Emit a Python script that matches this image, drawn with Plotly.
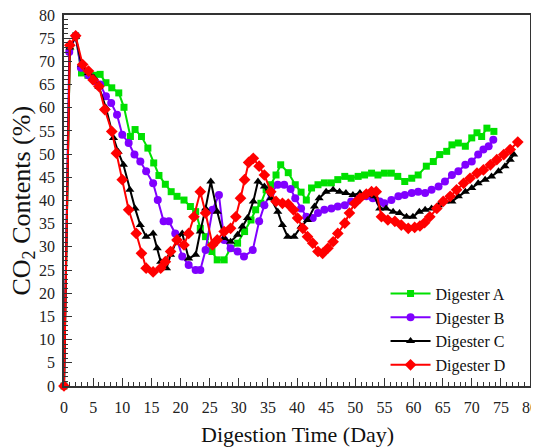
import plotly.graph_objects as go

# Digester A (green squares)
a_day = [0, 1, 2, 3, 4.1, 5.1, 6.2, 7.2, 8.2, 9.4, 10.3, 11.4, 12.2, 13.3, 14.4, 15.4, 16.3, 17.4,
         18.4, 19.4, 20.6, 21.7, 22.6, 23.4, 24.3, 25.4, 26.3, 27.5, 28.6, 29.8, 31.0, 32.1, 32.9,
         33.8, 34.7, 35.5, 36.4, 37.2, 38.5, 39.7, 40.7, 41.6, 42.5, 43.6, 44.7, 45.9, 47.0, 48.2,
         49.3, 50.5, 51.6, 52.8, 53.9, 55.0, 56.2, 57.3, 58.5, 59.7, 60.8, 62.2, 63.4, 64.5, 65.7,
         66.6, 67.7, 68.9, 70.0, 70.9, 71.7, 72.6, 73.8]
a_co2 = [0, 73, 75.5, 67.5, 67, 67, 67.2, 65.4, 64.3, 63.2, 60.1, 53.8, 55.3, 53.8, 51.3, 48.1, 45.4, 43.5,
         41.9, 40.9, 40.1, 38.7, 37.6, 34, 32.2, 29, 27.2, 27.2, 29.7, 30.8, 33.3, 35.8, 38,
         39.4, 42.3, 43.4, 45.5, 47.7, 46, 43.4, 41.8, 40.1, 42.7, 43.4, 43.8, 43.8, 44.5, 45.2,
         44.8, 45.2, 45.5, 45.9, 45.5, 45.9, 45.9, 45.2, 44.1, 44.8, 45.5, 47.4, 48.4, 49.9, 50.6,
         52.0, 52.4, 51.7, 53.5, 54.6, 53.8, 55.6, 54.9]

# Digester B (purple circles)
b_day = [0, 0.9, 2, 2.9, 4.2, 5.3, 6.2, 7.2, 8.1, 9.1, 10.0, 11.1, 12.1, 13.1, 14.1, 15.3, 16.1, 17.1,
         18.0, 19.1, 20.3, 21.4, 22.6, 23.4, 24.3, 25.5, 26.6, 27.5, 28.6, 29.8, 30.9, 32.4, 33.5,
         34.4, 35.5, 36.7, 37.8, 38.9, 39.7, 40.7, 41.6, 42.7, 43.6, 44.7, 45.9, 47.0, 48.2, 49.3,
         50.5, 51.9, 53.0, 54.2, 55.0, 56.2, 57.4, 58.5, 59.7, 60.8, 62.0, 63.1, 64.3, 65.4, 66.6,
         67.7, 68.9, 70.0, 71.1, 72.0, 72.9, 73.7]
b_co2 = [0, 72, 75.5, 68.6, 67, 65.7, 65, 62.5, 61, 58.5, 54.2, 52.4, 49.9, 48.4, 46.3, 43.7, 40.1, 35.5,
         35.5, 32.9, 27.9, 26.1, 25, 25, 29.3, 38, 41.2, 31.5, 29.7, 29, 27.9, 29.3, 35.5,
         39, 41.6, 43.4, 43.4, 42.5, 40.5, 38.3, 36.5, 36.2, 37.3, 38, 38.3, 38.7, 39, 39.8,
         40.5, 40.9, 40.5, 39.8, 39.4, 40.1, 40.9, 41.2, 41.6, 41.9, 41.6, 42.3, 43, 44.1, 45.5,
         46.3, 47.7, 48.4, 49.9, 51, 51.7, 53.1]

# Digester C (black triangles)
c_day = [0, 1, 2, 3, 4.2, 5.1, 6.0, 7.2, 8.5, 9.3, 10.2, 11.3, 12.2, 13.1, 14.1, 15.3, 16.0, 16.6,
         17.6, 18.3, 19.4, 20.3, 21.4, 22.6, 23.4, 24.3, 25.2, 26.3, 27.5, 28.6, 29.8, 30.6, 31.5,
         32.5, 33.3, 34.4, 35.5, 36.7, 37.5, 38.4, 39.5, 40.7, 41.8, 43.0, 43.8, 45.0, 46.2, 47.3,
         48.4, 49.6, 50.8, 51.9, 53.3, 54.2, 55.3, 56.5, 57.6, 58.8, 59.9, 61.0, 62.0, 63.1, 64.3,
         65.4, 66.6, 67.7, 68.9, 70.0, 71.1, 72.3, 73.4, 74.6, 75.7, 76.6, 77.2]
c_co2 = [0, 73, 75.3, 69.3, 67.5, 66.5, 64.5, 60, 53.5, 50.5, 47.7, 42.3, 38.3, 34.7, 32.2, 32.9, 29.7, 26.8,
         25.4, 28.3, 31.5, 32.9, 27.5, 28.3, 33.3, 38.3, 44.1, 37.6, 31.9, 31.1, 32.6, 34.4, 36.2,
         39.8, 44.1, 43, 40.5, 37.6, 34.7, 32.2, 32.2, 34.4, 35.8, 38.7, 40.5, 41.9, 42.3, 41.9,
         41.6, 41.2, 41.6, 41.2, 40.9, 38.3, 38.3, 37.6, 37.3, 36.5, 36.5, 37.6, 38, 38.3, 39,
         39.8, 39.8, 40.9, 41.9, 42.7, 43.7, 44.5, 45.2, 46.3, 47.4, 48.8, 49.9]

# Digester D (red diamonds)
d_day = [0, 1, 2, 3.2, 4.2, 5.0, 6.0, 7.0, 8.2, 9.0, 10.0, 11.1, 12.4, 13.3, 14.1, 15.3, 16.6, 17.4,
         18.3, 19.4, 20.6, 21.4, 22.3, 23.4, 24.3, 25.5, 26.3, 27.5, 28.6, 29.5, 30.3, 31.0, 31.7,
         32.5, 33.5, 34.4, 35.5, 36.4, 37.5, 38.5, 39.4, 40.1, 41.0, 41.8, 42.7, 43.6, 44.4, 45.3,
         46.2, 47.0, 48.2, 49.0, 49.9, 50.8, 51.9, 52.8, 53.6, 54.5, 55.6, 56.8, 57.9, 59.1, 60.2,
         61.1, 61.9, 62.8, 64.0, 65.1, 66.3, 67.4, 68.6, 69.7, 70.9, 72.0, 73.2, 74.3, 75.5, 76.6, 77.9]
d_co2 = [0, 73.5, 75.5, 69.3, 67.9, 66, 64.6, 59.6, 54.9, 50.2, 44.5, 38, 32.9, 28.6, 25.4, 24.6, 25.4, 26.8,
         29, 31.5, 30.4, 32.9, 36.5, 41.9, 37.3, 30.4, 31.5, 33.3, 34, 36.5, 40.5, 44.5, 48.2,
         49.1, 47.4, 45.5, 41.9, 39.8, 39.4, 39.2, 38, 36.2, 34, 32.2, 30.8, 29, 28.6, 29.7,
         31.1, 32.9, 35.1, 37.3, 39.4, 40.5, 41.4, 41.9, 41.9, 36.5, 35.8, 35.5, 34.7, 34, 34.2,
         34.5, 35.2, 36.5, 38.3, 39.8, 40.9, 42.3, 43.7, 44.8, 45.9, 46.6, 47.7, 48.8, 49.9, 51, 52.6]

series = [
    ("Digester A", a_day, a_co2, "#00e000", "square", 7),
    ("Digester B", b_day, b_co2, "#8000ff", "circle", 8),
    ("Digester C", c_day, c_co2, "#000000", "triangle-up", 8),
    ("Digester D", d_day, d_co2, "#ff0000", "diamond", 9),
]

FONT = "Liberation Serif, Times New Roman, serif"

fig = go.Figure()
for name, xs, ys, col, sym, sz in series:
    fig.add_trace(go.Scatter(
        x=xs, y=ys, name=name, mode="lines+markers",
        line=dict(color=col, width=2),
        marker=dict(symbol=sym, size=sz, color=col, line=dict(width=0)),
        cliponaxis=False,
    ))

axis_common = dict(
    range=[0, 80], dtick=5, tick0=0,
    ticks="inside", ticklen=8, tickwidth=1, tickcolor="#333",
    minor=dict(dtick=1, ticks="inside", ticklen=4, tickwidth=1, tickcolor="#333"),
    showline=True, linecolor="#333", linewidth=1.5, mirror=True,
    showgrid=False, zeroline=False, automargin=False,
    ticklabeloverflow="allow",
    tickfont=dict(family=FONT, size=16, color="#222"),
)

fig.update_xaxes(**axis_common, ticklabelstandoff=6)
fig.update_yaxes(**axis_common, ticklabelstandoff=4)

# the page body adds an 8px margin, so the figure is sized to fit inside it
fig.update_layout(
    width=531, height=440,
    margin=dict(l=56, r=9, t=7, b=62),
    paper_bgcolor="white", plot_bgcolor="white",
    font=dict(family=FONT),
    legend=dict(
        x=0.69, y=0.295, xanchor="left", yanchor="top",
        bgcolor="rgba(0,0,0,0)", borderwidth=0,
        font=dict(family=FONT, size=16, color="#111"),
        itemwidth=40, tracegroupgap=0,
    ),
    annotations=[
        dict(text="Digestion Time (Day)", xref="paper", yref="paper",
             x=0.502, y=-0.132, xanchor="center", yanchor="middle", showarrow=False,
             font=dict(family=FONT, size=22, color="#111")),
        dict(text="CO<sub>2</sub> Contents (%)", xref="paper", yref="paper",
             x=-0.09, y=0.5, xanchor="center", yanchor="middle", textangle=-90, showarrow=False,
             font=dict(family=FONT, size=26, color="#111")),
    ],
)

fig.write_html("out.html")
